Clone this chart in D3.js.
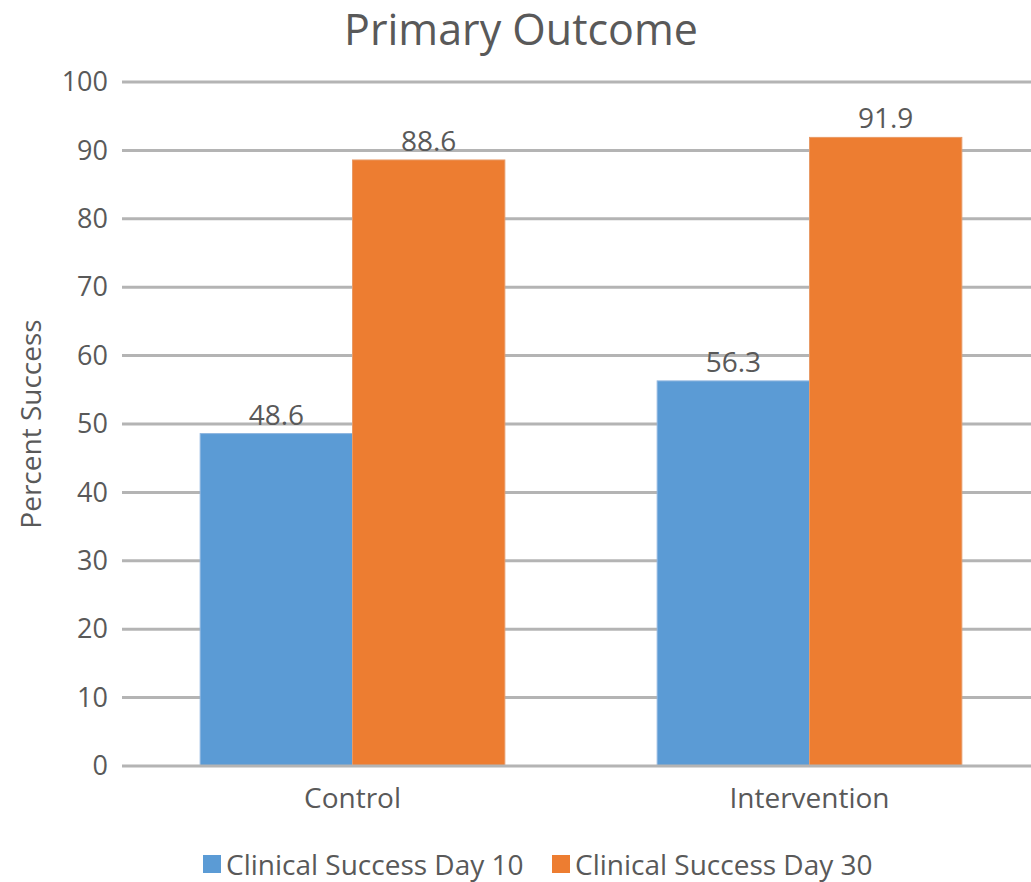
<!DOCTYPE html>
<html>
<head>
<meta charset="utf-8">
<script src="https://cdn.jsdelivr.net/npm/d3@7"></script>
<style>
  html, body { margin: 0; padding: 0; background: #fff; }
  svg { display: block; }
  text { font-family: "Open Sans", "Noto Sans", sans-serif; fill: #595959; }
</style>
</head>
<body>
<svg id="chart" width="1031" height="882"></svg>
<script>
// Chart data
const categories = ["Control", "Intervention"];
const seriesNames = ["Clinical Success Day 10", "Clinical Success Day 30"];
const day10 = [48.6, 56.3];
const day30 = [88.6, 91.9];
const yTicks = [0, 10, 20, 30, 40, 50, 60, 70, 80, 90, 100];
const colors = ["#5b9bd5", "#ed7d31"];

const svg = d3.select("#chart");
const W = 1031, H = 882;
const plot = { left: 124, right: 1038, top: 82, bottom: 766 };

const y = d3.scaleLinear().domain([0, 100]).range([plot.bottom, plot.top]);
const x0 = d3.scaleBand().domain(categories).range([plot.left, plot.right])
  .paddingInner(0).paddingOuter(0);
const innerPad = 0.5 / 3; // gap equal to one bar width per category
const x1 = d3.scaleBand().domain(seriesNames)
  .range([x0.bandwidth() * innerPad, x0.bandwidth() * (1 - innerPad)])
  .padding(0);

// Title
svg.append("text")
  .attr("x", 521).attr("y", 45)
  .attr("text-anchor", "middle")
  .style("font-size", "43px")
  .text("Primary Outcome");

// Gridlines
svg.append("g").selectAll("line")
  .data(yTicks.filter(d => d > 0))
  .join("line")
  .attr("x1", 122).attr("x2", W)
  .attr("y1", d => y(d)).attr("y2", d => y(d))
  .attr("stroke", "#b4b4b4").attr("stroke-width", 3);

// Y axis tick labels
const yAxis = d3.axisLeft(y).tickValues(yTicks).tickSize(0).tickPadding(14);
const yg = svg.append("g").attr("transform", `translate(${plot.left - 2},0)`).call(yAxis);
yg.select(".domain").remove();
yg.selectAll("text")
  .style("font-size", "27px")
  .attr("fill", "#595959")
  .style("font-family", '"Open Sans", "Noto Sans", sans-serif');

// Y axis title
svg.append("text")
  .attr("transform", `translate(41,${(plot.top + plot.bottom) / 2}) rotate(-90)`)
  .attr("text-anchor", "middle")
  .style("font-size", "28px")
  .text("Percent Success");

// Bars
const rows = categories.map((c, i) => ({ cat: c, vals: [day10[i], day30[i]] }));
const groups = svg.append("g").selectAll("g")
  .data(rows)
  .join("g")
  .attr("transform", d => `translate(${x0(d.cat)},0)`);

groups.selectAll("rect")
  .data(d => d.vals.map((v, j) => ({ name: seriesNames[j], v, j })))
  .join("rect")
  .attr("x", d => x1(d.name))
  .attr("width", x1.bandwidth())
  .attr("y", d => y(d.v))
  .attr("height", d => y(0) - y(d.v))
  .attr("fill", d => colors[d.j])
  .attr("stroke", d => d.j === 0 ? "#8fb6e0" : "#e89a66")
  .attr("stroke-width", 1);

// Value labels
groups.selectAll("text.val")
  .data(d => d.vals.map((v, j) => ({ name: seriesNames[j], v, j })))
  .join("text")
  .attr("class", "val")
  .attr("x", d => x1(d.name) + x1.bandwidth() / 2)
  .attr("y", d => y(d.v) - 9)
  .attr("text-anchor", "middle")
  .style("font-size", "28px")
  .text(d => d3.format(".1f")(d.v));

// Baseline
svg.append("line")
  .attr("x1", 122).attr("x2", W)
  .attr("y1", y(0)).attr("y2", y(0))
  .attr("stroke", "#b4b4b4").attr("stroke-width", 3);

// Category labels
const xAxis = d3.axisBottom(x0).tickSize(0).tickPadding(22);
const xg = svg.append("g").attr("transform", `translate(0,${plot.bottom})`).call(xAxis);
xg.select(".domain").remove();
xg.selectAll("text")
  .style("font-size", "28px")
  .attr("fill", "#595959")
  .style("font-family", '"Open Sans", "Noto Sans", sans-serif');

// Legend
const legendItems = [
  { name: seriesNames[0], color: colors[0], x: 203 },
  { name: seriesNames[1], color: colors[1], x: 552 }
];
const lg = svg.append("g").selectAll("g").data(legendItems).join("g")
  .attr("transform", d => `translate(${d.x},${855})`);
lg.append("rect")
  .attr("width", 18).attr("height", 18)
  .attr("fill", d => d.color);
lg.append("text")
  .attr("x", 23).attr("y", 20)
  .style("font-size", "28px")
  .text(d => d.name);
</script>
</body>
</html>
